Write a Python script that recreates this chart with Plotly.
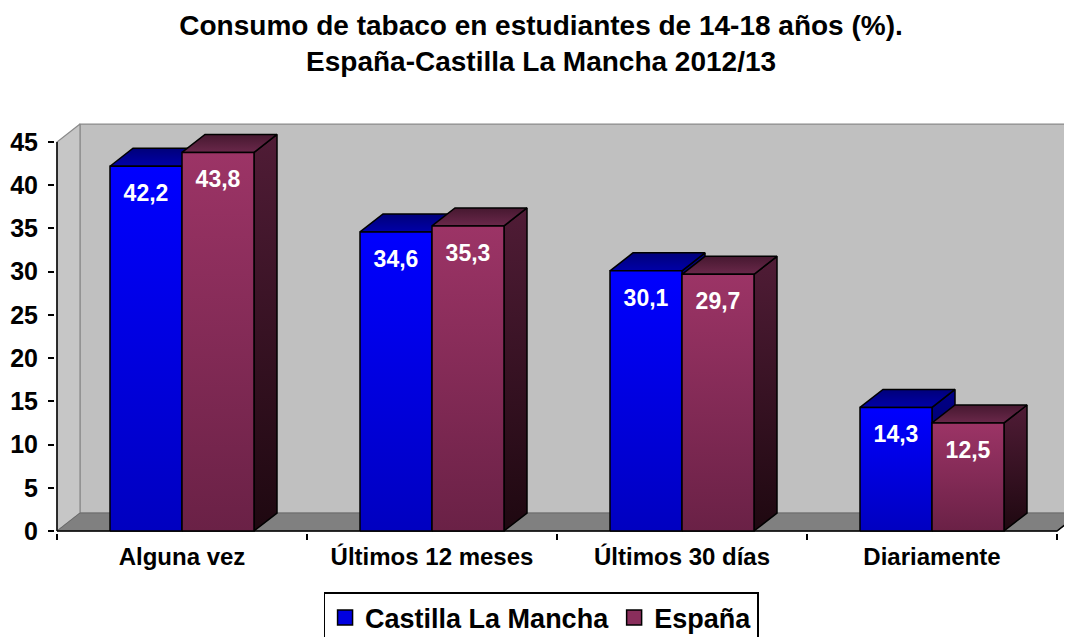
import plotly.graph_objects as go

# ---------------- data ----------------
categories = ["Alguna vez", "Últimos 12 meses", "Últimos 30 días", "Diariamente"]
series_names = ["Castilla La Mancha", "España"]
clm_values = [42.2, 34.6, 30.1, 14.3]
esp_values = [43.8, 35.3, 29.7, 12.5]
clm_labels = ["42,2", "34,6", "30,1", "14,3"]
esp_labels = ["43,8", "35,3", "29,7", "12,5"]
y_tick_values = [0, 5, 10, 15, 20, 25, 30, 35, 40, 45]
title_text = ("Consumo de tabaco en estudiantes de 14-18 años (%).<br>"
              "España-Castilla La Mancha 2012/13")

# ---------------- geometry / style ----------------
FONT = "Liberation Sans, Arial, sans-serif"
BAR_W = 0.288          # width of one bar in category units
DX = 0.092             # 3-D depth offset (x, category units)
DY = 2.08              # 3-D depth offset (y, value units)
Y_TOP = y_tick_values[-1]
X_LEFT = -0.5
X_RIGHT = len(categories) - 0.5
LABEL_DROP = 3.35

styles = [
    dict(front=[[0, "#0000c0"], [1, "#0000ff"]],
         top=[[0, "#0000a8"], [1, "#00007a"]],
         side=[[0, "#000040"], [1, "#000088"]],
         legend="#0000e0"),
    dict(front=[[0, "#6a2146"], [1, "#9c3466"]],
         top=[[0, "#6a284a"], [1, "#461830"]],
         side=[[0, "#1e0810"], [1, "#501c36"]],
         legend="#8a2e5c"),
]

fig = go.Figure()


def poly(xs, ys, fill=None, gradient=None, line_color="black", line_width=1.5):
    kw = dict(x=xs + [xs[0]], y=ys + [ys[0]], mode="lines", fill="toself",
              line=dict(color=line_color, width=line_width),
              hoverinfo="skip", showlegend=False)
    if gradient is not None:
        kw["fillgradient"] = dict(type="vertical", colorscale=gradient)
    else:
        kw["fillcolor"] = fill
    fig.add_trace(go.Scatter(**kw))


# walls and floor
poly([X_LEFT + DX, X_RIGHT + DX, X_RIGHT + DX, X_LEFT + DX],
     [DY, DY, Y_TOP + DY, Y_TOP + DY], fill="#c0c0c0", line_color="#8a8a8a", line_width=1.2)
poly([X_LEFT, X_LEFT + DX, X_LEFT + DX, X_LEFT],
     [0, DY, Y_TOP + DY, Y_TOP], fill="#c6c6c6", line_color="#8a8a8a", line_width=1.2)
poly([X_LEFT, X_RIGHT, X_RIGHT + DX, X_LEFT + DX],
     [0, 0, DY, DY], fill="#808080", line_color="#6a6a6a", line_width=1)

# axis edges (front of the 3-D box)
fig.add_trace(go.Scatter(x=[X_LEFT, X_LEFT], y=[0, Y_TOP], mode="lines",
                         line=dict(color="black", width=1.5), hoverinfo="skip", showlegend=False))
fig.add_trace(go.Scatter(x=[X_LEFT, X_RIGHT, X_RIGHT + DX], y=[0, 0, DY], mode="lines",
                         line=dict(color="black", width=1.5), hoverinfo="skip", showlegend=False))

# bars
all_values = [clm_values, esp_values]
for ci in range(len(categories)):
    for si, vals in enumerate(all_values):
        v = vals[ci]
        x0 = ci - BAR_W + si * BAR_W
        x1 = x0 + BAR_W
        st = styles[si]
        poly([x1, x1 + DX, x1 + DX, x1], [0, DY, v + DY, v], gradient=st["side"])
        poly([x0, x1, x1 + DX, x0 + DX], [v, v, v + DY, v + DY], gradient=st["top"])
        poly([x0, x1, x1, x0], [0, 0, v, v], gradient=st["front"])

# value labels
for si, (vals, labs) in enumerate([(clm_values, clm_labels), (esp_values, esp_labels)]):
    fig.add_trace(go.Scatter(
        x=[ci - BAR_W / 2 + si * BAR_W for ci in range(len(categories))],
        y=[v - LABEL_DROP for v in vals],
        mode="text", text=labs,
        textfont=dict(family=FONT, size=23, color="white", weight="bold"),
        hoverinfo="skip", showlegend=False))

# legend entries
for si, name in enumerate(series_names):
    fig.add_trace(go.Scatter(
        x=[None], y=[None], mode="markers", name=name,
        marker=dict(symbol="square", size=15, color=styles[si]["legend"],
                    line=dict(color="black", width=1.5))))

fig.update_layout(
    width=1064, height=629, autosize=False,
    margin=dict(l=47, r=0, t=114, b=104, autoexpand=False),
    paper_bgcolor="white", plot_bgcolor="white",
    font=dict(family=FONT, color="black"),
    title=dict(text=title_text, x=0.501, xref="container", xanchor="center",
               y=0.9577, yref="container", yanchor="top",
               font=dict(family=FONT, size=28, color="black", weight="bold")),
    showlegend=True,
    legend=dict(orientation="h", x=0.501, xref="container", xanchor="center",
                y=0.0715, yref="container", yanchor="top",
                bgcolor="white", bordercolor="black", borderwidth=1.5,
                font=dict(family=FONT, size=27, color="black", weight="bold")),
    xaxis=dict(range=[-0.508, 3.56], showgrid=False, zeroline=False, showline=False,
               automargin=False,
               tickmode="array", tickvals=list(range(len(categories))), ticktext=categories,
               ticks="", ticklabelstandoff=7,
               tickfont=dict(family=FONT, size=24, color="black", weight="bold"),
               minor=dict(tickmode="array", tickvals=[i - 0.5 for i in range(len(categories) + 1)],
                          ticks="outside", ticklen=6, tickwidth=1.5, tickcolor="black",
                          showgrid=False),
               fixedrange=True),
    yaxis=dict(range=[-0.231, 47.32], showgrid=False, zeroline=False, showline=False,
               automargin=False,
               tickmode="array", tickvals=y_tick_values,
               ticks="outside", ticklen=6, tickwidth=1.5, tickcolor="black",
               ticklabelstandoff=5,
               tickfont=dict(family=FONT, size=25, color="black", weight="bold"),
               fixedrange=True),
)

fig.write_html("out.html")
